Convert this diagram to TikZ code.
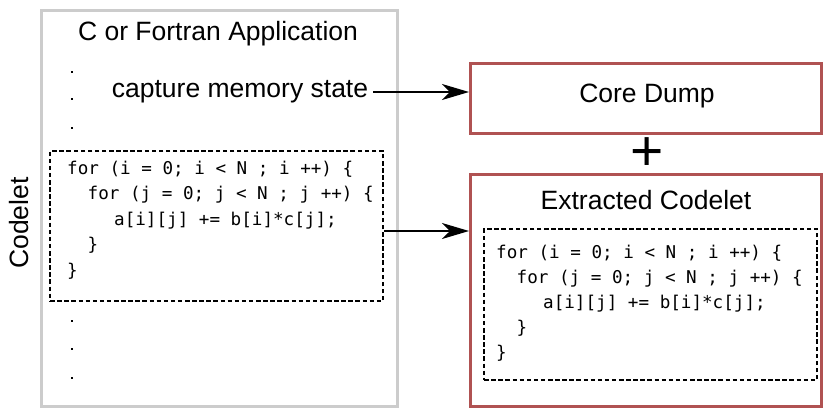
\documentclass[tikz,border=0pt]{standalone}
\usepackage{fontspec}
\setmainfont{Liberation Sans}
\newfontfamily\codefont{DejaVu Sans Mono}
\usetikzlibrary{arrows.meta}

\definecolor{appgray}{RGB}{204,204,204}
\definecolor{boxred}{RGB}{176,82,82}

\tikzset{
  label/.style={font=\fontsize{26.5}{30}\selectfont, inner sep=0pt},
  codeline/.style={font=\codefont\fontsize{17.6}{25.5}\selectfont, inner sep=0pt, anchor=base west},
  codebox/.style={draw=black, line width=2.3pt, dash pattern=on 4.5pt off 2.6pt, inner sep=0pt, anchor=north west},
  outbox/.style={draw=boxred, line width=3pt, inner sep=0pt, anchor=north west},
  flow/.style={-{Stealth[length=27pt,width=16pt,inset=8pt]}, line width=1.5pt},
  dotmark/.style={rectangle, fill=black, inner sep=0pt, minimum size=2.8pt}
}

% code snippet drawn line by line: #1 name prefix, #2 x origin, #3 first baseline, #4 line pitch
\newcommand\loopcode[4]{%
  \node[codeline] (#1a) at (#2,#3) {for (i = 0; i < N ; i ++) \{};
  \node[codeline] (#1b) at (#2+20.5,#3+#4) {for (j = 0; j < N ; j ++) \{};
  \node[codeline] (#1c) at (#2+47,#3+2*#4) {a[i][j] += b[i]*c[j];};
  \node[codeline] (#1d) at (#2+20.5,#3+3*#4) {\}};
  \node[codeline] (#1e) at (#2,#3+4*#4) {\}};
}

\begin{document}
\begin{tikzpicture}[x=1pt, y=-1pt]
  \useasboundingbox (0,0) rectangle (824,407);

  % application frame
  \node[draw=appgray, line width=3pt, inner sep=0pt, anchor=north west,
        minimum width=356pt, minimum height=396pt] (app) at (40,9) {};
  \node[label] (title) at (218,34) {C or Fortran Application};

  % elided source lines
  \foreach \y [count=\i] in {72,99,128} \node[dotmark] (top\i) at (72,\y) {};
  \foreach \y [count=\i] in {321,349,378} \node[dotmark] (bot\i) at (72,\y) {};

  \node[label] (capture) at (240,92) {capture memory state};

  % codelet inside the application
  \node[codebox, minimum width=333pt, minimum height=150pt] (src) at (49,150) {};
  \loopcode{s}{67}{174}{25.5}
  \node[label, rotate=90] (codelet) at (19,223) {Codelet};

  % outputs
  \node[outbox, minimum width=351pt, minimum height=70pt] (dump) at (469,62) {};
  \node[label] (dumptxt) at (647,96) {Core Dump};

  \node[font=\fontsize{57}{57}\selectfont, inner sep=0pt] (plus) at (647,154) {+};

  \node[outbox, minimum width=351pt, minimum height=232pt] (extract) at (469,173) {};
  \node[label] (extracttxt) at (646,200) {Extracted Codelet};
  \node[codebox, minimum width=333pt, minimum height=151pt] (dst) at (483,228) {};
  \loopcode{d}{496}{258}{25}

  % connectors
  \coordinate (capend) at (capture.east);
  \draw[flow] ([xshift=5pt]capend) -- (dump.west |- capend);
  \draw[flow] (src.east |- 0,231) -- (extract.west |- 0,231);
\end{tikzpicture}
\end{document}
